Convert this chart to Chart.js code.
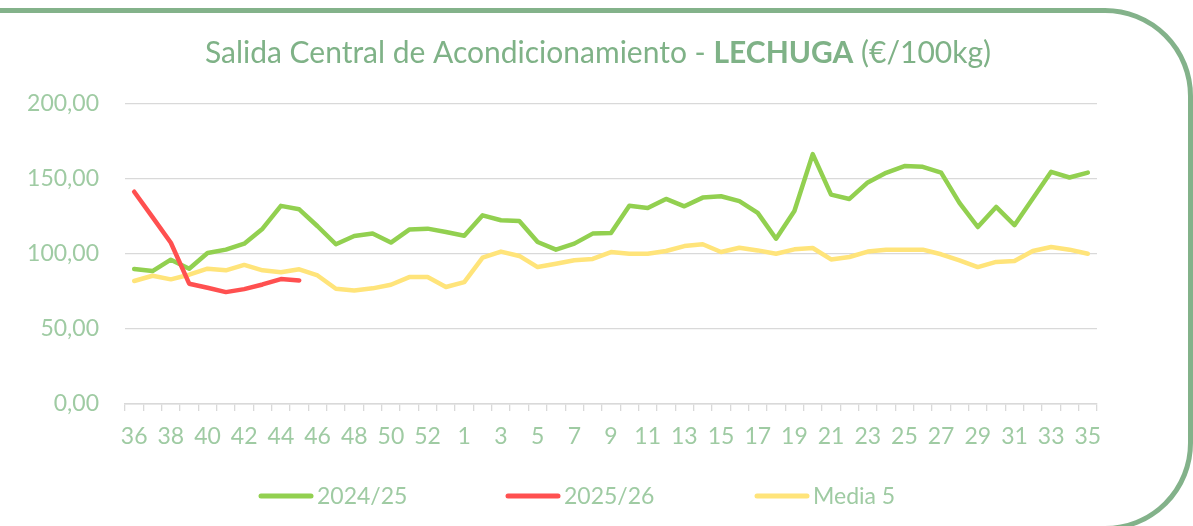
<!DOCTYPE html>
<html lang="es">
<head>
<meta charset="utf-8">
<title>Salida Central de Acondicionamiento - LECHUGA</title>
<script src="https://cdn.jsdelivr.net/npm/chart.js@4.4.1/dist/chart.umd.min.js"></script>
<style>
  html, body { margin: 0; padding: 0; background: #fff; }
  #wrap { position: relative; width: 1193px; height: 526px; overflow: hidden; }
  #chart { position: absolute; left: 0; top: 0; }
  #frame {
    position: absolute; left: -30px; top: 8px;
    width: 1213px; height: 513px;
    border: 5px solid #83B28A;
    border-radius: 0 88px 88px 0;
    pointer-events: none;
  }
</style>
</head>
<body>
<div id="wrap">
  <canvas id="chart" width="1193" height="526"></canvas>
  <div id="frame"></div>
</div>
<script>
// campaign weeks, 36 of one year through 35 of the next
const weeks = [36, 37, 38, 39, 40, 41, 42, 43, 44, 45, 46, 47, 48, 49, 50, 51, 52, 53,
  1, 2, 3, 4, 5, 6, 7, 8, 9, 10, 11, 12, 13, 14, 15, 16, 17, 18, 19, 20,
  21, 22, 23, 24, 25, 26, 27, 28, 29, 30, 31, 32, 33, 34, 35];

// €/100kg
const campaign2425 = [90, 88.6, 96.2, 90.2, 100.7, 102.9, 106.9, 116.9, 132.1, 129.8, 118.5, 106.5, 112, 113.6, 107.6, 116.3, 116.9, 114.7,
  112.2, 125.8, 122.5, 122, 108, 102.9, 106.9, 113.6, 114, 132.1, 130.7, 136.7, 131.8, 137.6, 138.5, 135.2, 127.4, 110.2, 128.7, 166.6,
  139.6, 136.7, 147.7, 154.1, 158.6, 158.1, 154.3, 134.1, 118, 131.4, 119.2, 137, 154.8, 151, 154.3];

const campaign2526 = [141.5, 124.6, 107.5, 80.2, 77.5, 74.6, 76.6, 79.7, 83.3, 82.4];

const media5 = [82, 85.5, 83.1, 86.2, 90.2, 89.1, 92.7, 89.1, 87.8, 89.8, 85.7, 76.8, 75.7, 77.1, 79.5, 84.6, 84.6, 78,
  81.3, 97.6, 101.6, 98.7, 91.3, 93.5, 95.8, 96.7, 101.3, 100.2, 100.2, 102, 105.3, 106.5, 101.3, 104.2, 102.4, 100.2, 103.1, 104,
  96.4, 98, 101.6, 102.9, 102.9, 102.9, 99.8, 95.8, 91.3, 94.7, 95.3, 102, 104.7, 102.9, 100.2];

const yTicks = [0, 50, 100, 150, 200];

const GREEN = '#92D050';
const RED = '#FF5050';
const YELLOW = '#FFE47A';
const TEXT = '#9FCBA3';
const TITLE = '#7FB287';
const GRID = '#D9D9D9';
const FONT = 'Lato, "Open Sans", sans-serif';

// title with the product name in bold, plus a hand-placed legend
const decorations = {
  id: 'decorations',
  afterDraw(chart) {
    const ctx = chart.ctx;
    ctx.save();
    ctx.fillStyle = TITLE;
    ctx.textBaseline = 'alphabetic';
    const parts = [
      ['normal', 'Salida Central de Acondicionamiento - '],
      ['bold', 'LECHUGA'],
      ['normal', ' (€/100kg)']
    ];
    let total = 0;
    const widths = parts.map(([w, s]) => {
      ctx.font = w + ' 30px ' + FONT;
      const m = ctx.measureText(s).width;
      total += m;
      return m;
    });
    let x = 598 - total / 2;
    parts.forEach(([w, s], i) => {
      ctx.font = w + ' 30px ' + FONT;
      ctx.fillText(s, x, 63);
      x += widths[i];
    });

    const legendX = [259, 506, 755];
    ctx.font = '23px ' + FONT;
    ctx.textBaseline = 'middle';
    chart.data.datasets.forEach((ds, i) => {
      const lx = legendX[i];
      ctx.strokeStyle = ds.borderColor;
      ctx.lineWidth = 5;
      ctx.lineCap = 'round';
      ctx.beginPath();
      ctx.moveTo(lx + 2, 496);
      ctx.lineTo(lx + 52, 496);
      ctx.stroke();
      ctx.fillStyle = TEXT;
      ctx.fillText(ds.label, lx + 58, 497);
    });
    ctx.restore();
  }
};

new Chart(document.getElementById('chart'), {
  type: 'line',
  data: {
    labels: weeks,
    datasets: [
      { label: '2024/25', data: campaign2425, borderColor: GREEN, order: 1 },
      { label: '2025/26', data: campaign2526, borderColor: RED, order: 0 },
      { label: 'Media 5', data: media5, borderColor: YELLOW, order: 2 }
    ]
  },
  options: {
    responsive: false,
    animation: false,
    devicePixelRatio: 1,
    elements: {
      line: { borderWidth: 4.5, tension: 0, borderCapStyle: 'round', borderJoinStyle: 'round' },
      point: { radius: 0, hoverRadius: 0 }
    },
    layout: { padding: { left: 0, top: 104, right: 96, bottom: 82 } },
    plugins: {
      legend: { display: false },
      title: { display: false },
      tooltip: { enabled: false }
    },
    scales: {
      x: {
        offset: true,
        afterFit(scale) { scale.height = 40; },
        grid: {
          offset: true,
          drawOnChartArea: false,
          drawTicks: true,
          tickLength: 7,
          color: GRID,
          lineWidth: 1.3
        },
        border: { display: true, color: GRID, width: 1.5 },
        ticks: {
          autoSkip: false,
          maxRotation: 0,
          minRotation: 0,
          padding: 12,
          color: TEXT,
          font: { family: FONT, size: 23 },
          callback(value, index) {
            return index % 2 === 0 ? this.getLabelForValue(value) : '';
          }
        }
      },
      y: {
        min: 0,
        max: 200,
        afterFit(scale) { scale.width = 125; },
        afterBuildTicks(scale) { scale.ticks = yTicks.map(v => ({ value: v })); },
        grid: { color: GRID, lineWidth: 1.3, drawTicks: false },
        border: { display: false },
        ticks: {
          padding: 26,
          color: TEXT,
          font: { family: FONT, size: 23 },
          callback: v => v.toFixed(2).replace('.', ',')
        }
      }
    }
  },
  plugins: [decorations]
});
</script>
</body>
</html>
